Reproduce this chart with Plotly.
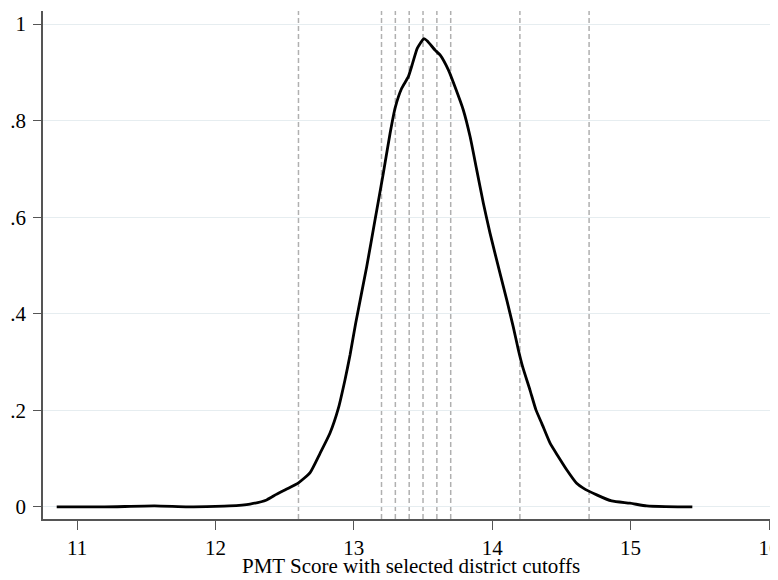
import plotly.graph_objects as go

# Density curve
pmt_score = [10.853, 11.2, 11.56, 11.8, 12.0, 12.1, 12.25, 12.37, 12.44, 12.515, 12.6, 12.684,
             12.756, 12.828, 12.888, 12.936, 12.973, 13.013, 13.093, 13.153, 13.213, 13.262,
             13.30, 13.346, 13.394, 13.425, 13.459, 13.507, 13.531, 13.587, 13.623, 13.683,
             13.731, 13.791, 13.84, 13.888, 13.936, 13.984, 14.056, 14.105, 14.152, 14.189,
             14.22, 14.273, 14.316, 14.358, 14.418, 14.478, 14.538, 14.61, 14.658, 14.755,
             14.863, 14.996, 15.116, 15.25, 15.446]
density = [0.0, 0.0, 0.002, 0.0, 0.001, 0.002, 0.006, 0.0145, 0.026, 0.037, 0.05, 0.071,
           0.111, 0.153, 0.204, 0.263, 0.315, 0.38, 0.4975, 0.594, 0.691, 0.774,
           0.828, 0.867, 0.891, 0.919, 0.95, 0.970, 0.965, 0.946, 0.936, 0.905,
           0.870, 0.822, 0.767, 0.698, 0.629, 0.567, 0.484, 0.4286, 0.373, 0.325,
           0.29, 0.242, 0.201, 0.173, 0.132, 0.104, 0.077, 0.049, 0.039, 0.025,
           0.0124, 0.0077, 0.002, 0.0005, 0.0]

# Selected district cutoffs
cutoffs = [12.6, 13.2, 13.3, 13.4, 13.5, 13.6, 13.7, 14.2, 14.7]

x_ticks = [11, 12, 13, 14, 15, 16]
y_ticks = [0, 0.2, 0.4, 0.6, 0.8, 1]
y_tick_labels = ["0", ".2", ".4", ".6", ".8", "1"]
x_title = "PMT Score with selected district cutoffs"

FONT = "Liberation Serif, Times New Roman, serif"
FSIZE = 21

fig = go.Figure()
fig.add_trace(go.Scatter(
    x=pmt_score, y=density, mode="lines",
    line=dict(color="black", width=2.8, shape="spline", smoothing=0.5),
    showlegend=False, hoverinfo="skip",
))

for c in cutoffs:
    fig.add_shape(type="line", xref="x", yref="paper", x0=c, x1=c, y0=0, y1=1,
                  line=dict(color="#b0b0b0", width=1.5, dash="5px,3px"), layer="below")

# page body has an 8px default margin, so the figure is 8px smaller than the window
fig.update_layout(
    width=770, height=572,
    paper_bgcolor="white", plot_bgcolor="white",
    margin=dict(l=35, r=0, t=3, b=61),
    font=dict(family=FONT, size=FSIZE, color="black"),
    showlegend=False,
    annotations=[dict(text=x_title, xref="paper", yref="paper", x=0.5, y=0,
                      yshift=-47, xanchor="center", yanchor="middle",
                      showarrow=False, font=dict(family=FONT, size=FSIZE, color="black"))],
)
fig.update_xaxes(
    range=[10.754, 16.065], tickvals=x_ticks, ticks="outside", ticklen=9, tickwidth=1.3,
    tickcolor="#555555", showline=True, linecolor="#555555", linewidth=1.5,
    showgrid=False, zeroline=False, automargin=False, ticklabeloverflow="allow",
    tickfont=dict(family=FONT, size=FSIZE, color="black"),
)
fig.update_yaxes(
    range=[-0.025, 1.027], tickvals=y_ticks, ticktext=y_tick_labels, ticks="outside",
    ticklen=8, tickwidth=1.3, tickcolor="#555555", showline=True, linecolor="#555555",
    linewidth=1.5, showgrid=True, gridcolor="#e6edf0", gridwidth=1.3, zeroline=False,
    automargin=False, ticklabelstandoff=3, tickfont=dict(family=FONT, size=FSIZE, color="black"),
)

fig.write_html("out.html")
